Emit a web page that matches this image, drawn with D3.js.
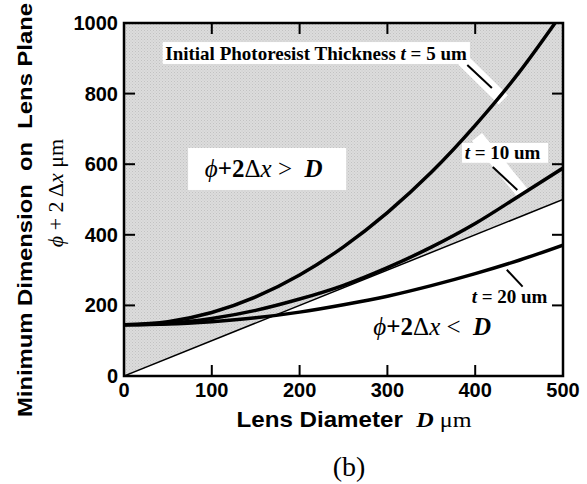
<!DOCTYPE html>
<html>
<head>
<meta charset="utf-8">
<script src="https://cdn.jsdelivr.net/npm/d3@7"></script>
<style>
  body { margin: 0; background: #fff; }
  svg { display: block; }
  text { white-space: pre; }
</style>
</head>
<body>
<div id="chart"></div>
<script>
const width = 587;
const height = 484;

// lens diameter D (um) and minimum dimension phi + 2 dx (um)
const diamT5 = [0, 50, 100, 150, 200, 250, 300, 350, 400, 450, 491];
const valsT5 = [145, 154, 180, 224, 286, 366, 463, 577, 710, 860, 1000];
const diam = [0, 50, 100, 150, 200, 250, 300, 350, 400, 450, 500];
const valsT10 = [145, 149, 163, 186, 218, 257, 307, 365, 432, 510, 589];
const valsT20 = [145, 147, 154, 165, 181, 202, 226, 256, 290, 328, 371];
const diagonal = [0, 500];

const xTicks = [0, 100, 200, 300, 400, 500];
const yTicks = [0, 200, 400, 600, 800, 1000];

const sans = "'Liberation Sans', Arial, sans-serif";
const serif = "'Liberation Serif', 'Times New Roman', serif";

const x = d3.scaleLinear().domain([0, 500]).range([124, 563]);
const y = d3.scaleLinear().domain([0, 1000]).range([376, 23]);

const svg = d3
  .select("#chart")
  .append("svg")
  .attr("width", width)
  .attr("height", height);

const defs = svg.append("defs");
const pat = defs
  .append("pattern")
  .attr("id", "stipple")
  .attr("width", 3)
  .attr("height", 3)
  .attr("patternUnits", "userSpaceOnUse");
pat.append("rect").attr("width", 3).attr("height", 3).attr("fill", "#dcdcdc");
pat.append("rect").attr("width", 1).attr("height", 1).attr("fill", "#c2c2c2");
pat.append("rect").attr("x", 1.5).attr("y", 1.5).attr("width", 1).attr("height", 1).attr("fill", "#cacaca");

defs
  .append("clipPath")
  .attr("id", "clip")
  .append("rect")
  .attr("x", x(0))
  .attr("y", y(1000))
  .attr("width", x(500) - x(0))
  .attr("height", y(0) - y(1000));

// shaded region phi + 2dx > D (above the line value = D)
const shade = [
  [0, 0],
  [500, 500],
  [500, 1000],
  [0, 1000],
];
svg
  .append("path")
  .attr("d", d3.line().x((d) => x(d[0])).y((d) => y(d[1]))(shade) + "Z")
  .attr("fill", "url(#stipple)");

// ticks (inside, all four sides)
const tickLen = 11;
const tickG = svg.append("g").attr("stroke", "#000").attr("stroke-width", 2);
xTicks.slice(1, -1).forEach((t) => {
  tickG.append("line").attr("x1", x(t)).attr("x2", x(t)).attr("y1", y(0)).attr("y2", y(0) - tickLen);
  tickG.append("line").attr("x1", x(t)).attr("x2", x(t)).attr("y1", y(1000)).attr("y2", y(1000) + tickLen);
});
yTicks.slice(1, -1).forEach((t) => {
  tickG.append("line").attr("x1", x(0)).attr("x2", x(0) + tickLen).attr("y1", y(t)).attr("y2", y(t));
  tickG.append("line").attr("x1", x(500)).attr("x2", x(500) - tickLen).attr("y1", y(t)).attr("y2", y(t));
});

// annotation pointers (in data units)
const ann = svg.append("g").attr("clip-path", "url(#clip)");
const band = (a, b, w) =>
  ann.append("line")
    .attr("x1", x(a[0])).attr("y1", y(a[1]))
    .attr("x2", x(b[0])).attr("y2", y(b[1]))
    .attr("stroke", "#fff").attr("stroke-width", w);
band([386, 895], [432, 782], 13);
band([402, 677], [454, 518], 13);

const line = d3.line().x((d) => x(d[0])).y((d) => y(d[1])).curve(d3.curveMonotoneX);
const curves = svg.append("g").attr("clip-path", "url(#clip)");

curves
  .append("path")
  .attr("d", line(diagonal.map((d) => [d, d])))
  .attr("fill", "none")
  .attr("stroke", "#000")
  .attr("stroke-width", 1.5);

[
  [diamT5, valsT5],
  [diam, valsT10],
  [diam, valsT20],
].forEach(([ds, vs]) => {
  curves
    .append("path")
    .attr("d", line(ds.map((d, i) => [d, vs[i]])))
    .attr("fill", "none")
    .attr("stroke", "#000")
    .attr("stroke-width", 3.5);
});

const pointer = (a, b) =>
  ann.append("line")
    .attr("x1", x(a[0])).attr("y1", y(a[1]))
    .attr("x2", x(b[0])).attr("y2", y(b[1]))
    .attr("stroke", "#000").attr("stroke-width", 2);
pointer([391, 881], [419, 816]);
pointer([420, 592], [448, 527]);
pointer([436, 301], [454, 253]);

// label boxes
const labelBox = (x0, y0, x1, y1) =>
  svg.append("rect")
    .attr("x", x(x0)).attr("y", y(y1))
    .attr("width", x(x1) - x(x0)).attr("height", y(y0) - y(y1))
    .attr("fill", "#fff");

labelBox(44, 884, 394, 946);
labelBox(385, 604, 483, 660);
labelBox(73, 527, 253, 646);

const serifText = (px, py, size, anchor) =>
  svg.append("text")
    .attr("x", x(px)).attr("y", y(py))
    .attr("font-family", serif)
    .attr("font-size", size)
    .attr("font-weight", "bold")
    .attr("text-anchor", anchor);

const lbl5 = serifText(47, 896, 19, "start");
lbl5.append("tspan").text("Initial Photoresist Thickness ");
lbl5.append("tspan").attr("font-style", "italic").text("t");
lbl5.append("tspan").text(" = 5 um");

const lbl10 = serifText(388, 615, 19, "start");
lbl10.append("tspan").attr("font-style", "italic").text("t");
lbl10.append("tspan").text(" = 10 um");

const lbl20 = serifText(396, 208, 19, "start");
lbl20.append("tspan").attr("font-style", "italic").text("t");
lbl20.append("tspan").text(" = 20 um");

const region = (px, py, sym) => {
  const t = svg.append("text")
    .attr("x", x(px)).attr("y", y(py))
    .attr("font-family", serif)
    .attr("font-size", 25)
    .attr("text-anchor", "start");
  t.append("tspan").attr("font-style", "italic").text("\u03d5");
  t.append("tspan").attr("font-weight", "bold").text("+2");
  t.append("tspan").text("\u0394");
  t.append("tspan").attr("font-style", "italic").text("x");
  t.append("tspan").text(" " + sym + "  ");
  t.append("tspan").attr("font-style", "italic").attr("font-weight", "bold").text("D");
};
region(92, 563, ">");
region(284, 116, "<");

// frame
svg
  .append("rect")
  .attr("x", x(0))
  .attr("y", y(1000))
  .attr("width", x(500) - x(0))
  .attr("height", y(0) - y(1000))
  .attr("fill", "none")
  .attr("stroke", "#000")
  .attr("stroke-width", 2.5);

// tick labels
svg
  .append("g")
  .selectAll("text")
  .data(xTicks)
  .join("text")
  .attr("x", (d) => x(d))
  .attr("y", y(0) + 21)
  .attr("text-anchor", "middle")
  .attr("font-family", sans)
  .attr("font-weight", "bold")
  .attr("font-size", 20)
  .text((d) => d);

svg
  .append("g")
  .selectAll("text")
  .data(yTicks)
  .join("text")
  .attr("x", x(0) - 6)
  .attr("y", (d) => y(d) + 7)
  .attr("text-anchor", "end")
  .attr("font-family", sans)
  .attr("font-weight", "bold")
  .attr("font-size", 20)
  .text((d) => d);

// axis titles
const xTitle = svg
  .append("text")
  .attr("x", 354)
  .attr("y", 427)
  .attr("text-anchor", "middle")
  .attr("font-size", 22)
  .attr("textLength", 235)
  .attr("lengthAdjust", "spacingAndGlyphs");
xTitle.append("tspan").attr("font-family", sans).attr("font-weight", "bold").text("Lens Diameter  ");
xTitle.append("tspan").attr("font-family", serif).attr("font-weight", "bold").attr("font-style", "italic").text("D");
xTitle.append("tspan").attr("font-family", serif).text(" \u03bcm");

svg
  .append("text")
  .attr("transform", "translate(32,210) rotate(-90)")
  .attr("text-anchor", "middle")
  .attr("font-family", sans)
  .attr("font-weight", "bold")
  .attr("font-size", 20)
  .attr("textLength", 414)
  .attr("lengthAdjust", "spacingAndGlyphs")
  .text("Minimum Dimension  on  Lens Plane");

const yTitle2 = svg
  .append("text")
  .attr("transform", "translate(63,193) rotate(-90)")
  .attr("text-anchor", "middle")
  .attr("font-family", serif)
  .attr("font-size", 22);
yTitle2.append("tspan").attr("font-style", "italic").text("\u03d5");
yTitle2.append("tspan").text(" + 2 \u0394");
yTitle2.append("tspan").attr("font-style", "italic").text("x");
yTitle2.append("tspan").text(" \u03bcm");

svg
  .append("text")
  .attr("x", 349)
  .attr("y", 476)
  .attr("text-anchor", "middle")
  .attr("font-family", serif)
  .attr("font-size", 28)
  .text("(b)");
</script>
</body>
</html>
